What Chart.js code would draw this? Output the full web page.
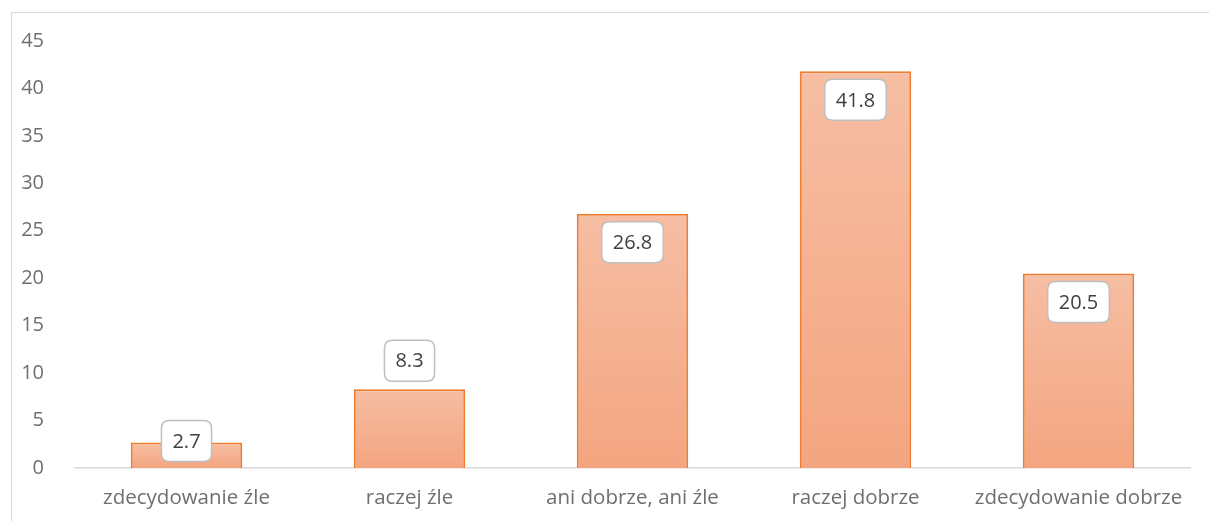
<!DOCTYPE html>
<html>
<head>
<meta charset="utf-8">
<script src="https://cdn.jsdelivr.net/npm/chart.js@4/dist/chart.umd.min.js"></script>
<style>
  html, body { margin: 0; padding: 0; background: #fff; }
  #wrap { position: relative; width: 1209px; height: 521px; overflow: hidden; }
  #frame { position: absolute; left: 11px; top: 12px; width: 1300px; height: 600px;
           border: 1px solid #d9d9d9; box-sizing: border-box; }
  canvas { position: absolute; left: 0; top: 0; }
</style>
</head>
<body>
<div id="wrap">
  <div id="frame"></div>
  <canvas id="chart" width="1209" height="521"></canvas>
</div>
<script>
// kategorie odpowiedzi
const categories = ["zdecydowanie źle", "raczej źle", "ani dobrze, ani źle", "raczej dobrze", "zdecydowanie dobrze"];
// procent odpowiedzi
const values = [2.7, 8.3, 26.8, 41.8, 20.5];
const yMin = 0;
const yMax = 45;
const yStep = 5;

const FONT = "'Open Sans', Lato, sans-serif";

// gradient per bar (jaśniejszy u góry)
function barFill(ctx) {
  const chart = ctx.chart;
  const area = chart.chartArea;
  if (!area || ctx.type !== "data") return "#f5b090";
  const y = chart.scales.y;
  const top = y.getPixelForValue(ctx.parsed.y);
  const bottom = y.getPixelForValue(0);
  if (bottom - top < 1) return "#f5b090";
  const g = chart.ctx.createLinearGradient(0, top, 0, bottom);
  g.addColorStop(0, "#f6bea4");
  g.addColorStop(1, "#f4a580");
  return g;
}

function roundRect(c, x, y, w, h, r) {
  c.beginPath();
  c.moveTo(x + r, y);
  c.lineTo(x + w - r, y);
  c.quadraticCurveTo(x + w, y, x + w, y + r);
  c.lineTo(x + w, y + h - r);
  c.quadraticCurveTo(x + w, y + h, x + w - r, y + h);
  c.lineTo(x + r, y + h);
  c.quadraticCurveTo(x, y + h, x, y + h - r);
  c.lineTo(x, y + r);
  c.quadraticCurveTo(x, y, x + r, y);
  c.closePath();
}

// etykiety danych w zaokrąglonych ramkach
const calloutLabels = {
  id: "calloutLabels",
  afterDatasetsDraw(chart) {
    const c = chart.ctx;
    const meta = chart.getDatasetMeta(0);
    c.save();
    c.font = "20px " + FONT;
    c.textAlign = "center";
    c.textBaseline = "middle";
    meta.data.forEach((bar, i) => {
      const txt = String(values[i]);
      const w = c.measureText(txt).width + 22;
      const h = 41;
      const barH = bar.base - bar.y;
      let top;
      if (barH > 100) top = bar.y + 8;
      else if (barH > 40) top = bar.y - h - 8;
      else top = bar.y - 22;
      const left = bar.x - w / 2;
      roundRect(c, left, top, w, h, 8);
      c.fillStyle = "#ffffff";
      c.fill();
      c.lineWidth = 1.5;
      c.strokeStyle = "#bfbfbf";
      c.stroke();
      c.fillStyle = "#404040";
      c.fillText(txt, bar.x, top + h / 2 + 1);
    });
    c.restore();
  }
};

new Chart(document.getElementById("chart"), {
  type: "bar",
  data: {
    labels: categories,
    datasets: [{
      data: values,
      backgroundColor: barFill,
      borderColor: "#ed7d31",
      borderWidth: { top: 2, left: 2, right: 2, bottom: 0 },
      borderSkipped: "bottom",
      categoryPercentage: 1.0,
      barPercentage: 0.5
    }]
  },
  options: {
    responsive: false,
    animation: false,
    devicePixelRatio: 1,
    layout: { padding: { top: 41, right: 19, bottom: 0, left: 0 } },
    plugins: {
      legend: { display: false },
      tooltip: { enabled: false }
    },
    scales: {
      x: {
        grid: { display: false },
        border: { display: true, color: "#d9d9d9", width: 1.5 },
        ticks: { color: "#6f6f6f", font: { family: FONT, size: 20.5 }, padding: 10, maxRotation: 0 },
        afterFit(scale) { scale.height = 53; }
      },
      y: {
        min: yMin,
        max: yMax,
        grid: { display: false },
        border: { display: false },
        ticks: { stepSize: yStep, color: "#6f6f6f", font: { family: FONT, size: 20 }, padding: 23 },
        afterFit(scale) { scale.width = 75; }
      }
    }
  },
  plugins: [calloutLabels]
});
</script>
</body>
</html>
